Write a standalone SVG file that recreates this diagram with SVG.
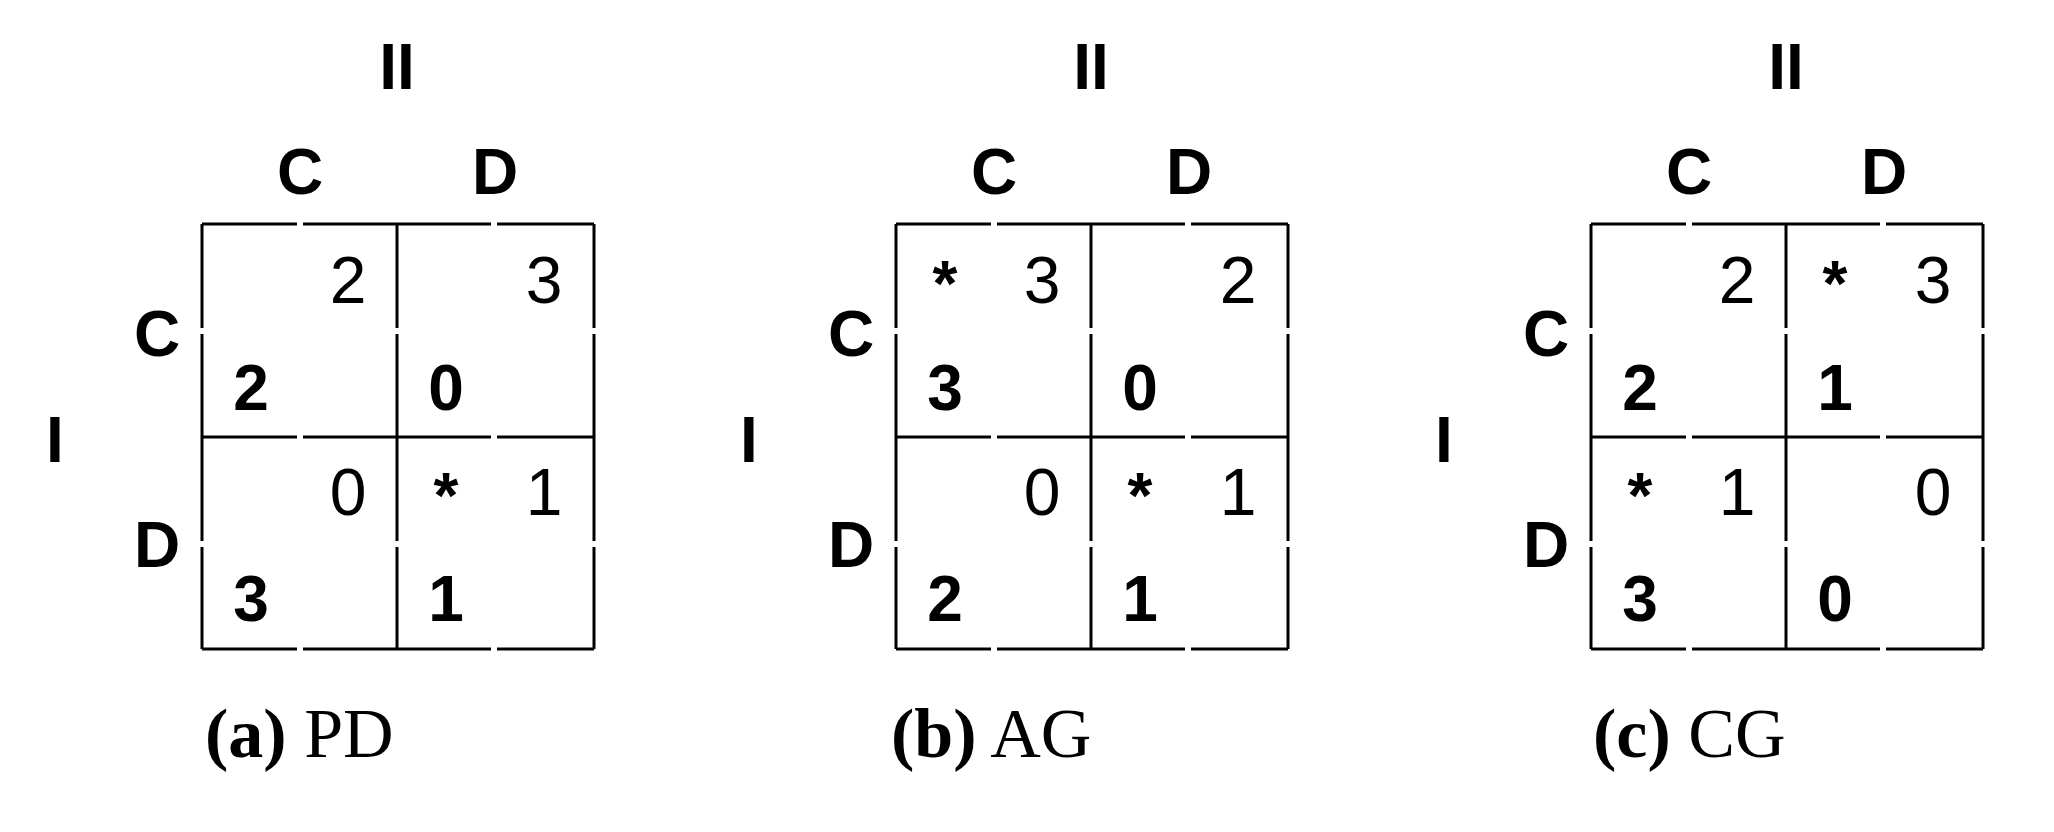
<svg xmlns="http://www.w3.org/2000/svg" width="2054" height="832" viewBox="0 0 2054 832">
<style>
.b{font-family:"Liberation Sans",Arial,sans-serif;font-weight:bold;font-size:64px;text-anchor:middle;fill:#000}
.n{font-family:"Liberation Sans",Arial,sans-serif;font-size:66px;text-anchor:middle;fill:#000}
.cap{font-family:"Liberation Serif","Times New Roman",serif;font-size:70px;fill:#000}
.g{stroke:#000;stroke-width:3;fill:none}
</style>
<defs>
<g id="grid" class="g">
<path d="M202 224H297M303 224H491M497 224H594M202 437H297M303 437H491M497 437H594M202 649H297M303 649H491M497 649H594"/>
<path d="M202 224V328M202 334V541M202 547V649M397 224V328M397 334V541M397 547V649M594 224V328M594 334V541M594 547V649"/>
</g>
<g id="labels">
<text class="b" x="397" y="89">II</text>
<text class="b" x="300" y="194">C</text>
<text class="b" x="495" y="194">D</text>
<text class="b" x="157" y="356">C</text>
<text class="b" x="157" y="567">D</text>
<text class="b" x="55" y="462">I</text>
</g>
</defs>
<g id="panel-a">
<use href="#grid"/><use href="#labels"/>
<text class="n" x="348" y="303">2</text><text class="b" x="251" y="410">2</text>
<text class="n" x="544" y="303">3</text><text class="b" x="446" y="410">0</text>
<text class="n" x="348" y="515">0</text><text class="b" x="251" y="621">3</text>
<text class="b" x="446" y="518">*</text><text class="n" x="544" y="515">1</text><text class="b" x="446" y="621">1</text>
<text class="cap" x="205" y="757"><tspan font-weight="bold">(a)</tspan> PD</text>
</g>
<g id="panel-b" transform="translate(694 0)">
<use href="#grid"/><use href="#labels"/>
<text class="b" x="251" y="306">*</text><text class="n" x="348" y="303">3</text><text class="b" x="251" y="410">3</text>
<text class="n" x="544" y="303">2</text><text class="b" x="446" y="410">0</text>
<text class="n" x="348" y="515">0</text><text class="b" x="251" y="621">2</text>
<text class="b" x="446" y="518">*</text><text class="n" x="544" y="515">1</text><text class="b" x="446" y="621">1</text>
<text class="cap" x="197" y="757"><tspan font-weight="bold">(b)</tspan> AG</text>
</g>
<g id="panel-c" transform="translate(1389 0)">
<use href="#grid"/><use href="#labels"/>
<text class="n" x="348" y="303">2</text><text class="b" x="251" y="410">2</text>
<text class="b" x="446" y="306">*</text><text class="n" x="544" y="303">3</text><text class="b" x="446" y="410">1</text>
<text class="b" x="251" y="518">*</text><text class="n" x="348" y="515">1</text><text class="b" x="251" y="621">3</text>
<text class="n" x="544" y="515">0</text><text class="b" x="446" y="621">0</text>
<text class="cap" x="204" y="757"><tspan font-weight="bold">(c)</tspan> CG</text>
</g>
</svg>
